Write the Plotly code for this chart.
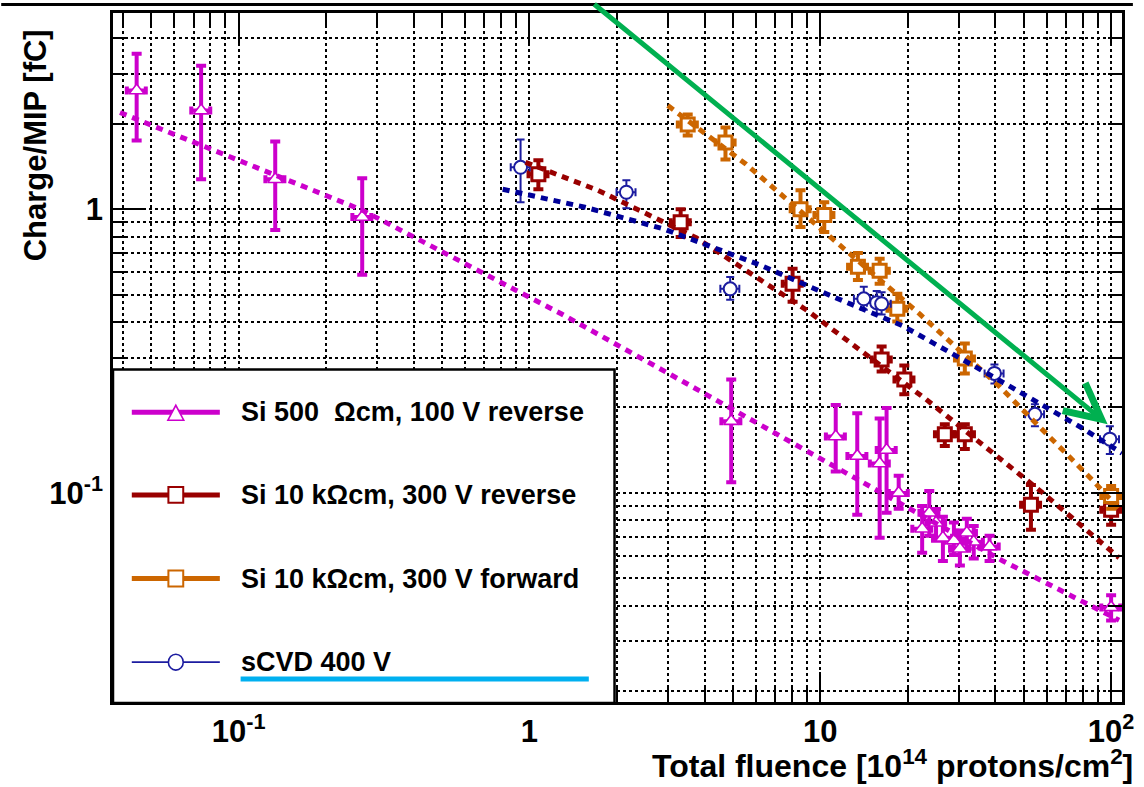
import plotly.graph_objects as go

# ---- measured charge per MIP vs. total fluence ----
# Si 500 Ohm cm, 100 V reverse bias
si500_fluence = [0.0446, 0.0743, 0.1336, 0.266, 4.94, 11.3, 13.4, 16.0, 16.9, 18.6,
                 22.4, 23.7, 25.0, 26.4, 28.8, 30.2, 31.9, 33.7, 38.2, 100.0]
si500_charge = [2.62, 2.225, 1.274, 0.938, 0.179, 0.158, 0.135, 0.127, 0.1416, 0.100,
                0.0748, 0.0851, 0.0785, 0.0695, 0.0679, 0.0636, 0.0724, 0.0673, 0.0647, 0.0395]
si500_high = [3.53, 3.20, 1.732, 1.284, 0.251, 0.204, 0.191, 0.183, 0.199, 0.115,
              0.0900, 0.1016, 0.0877, 0.0824, 0.0787, 0.0737, 0.0811, 0.0765, 0.0707, 0.0436]
si500_low = [1.746, 1.274, 0.844, 0.587, 0.109, 0.119, 0.0837, 0.0695, 0.0851, 0.0879,
             0.0616, 0.0707, 0.0679, 0.0575, 0.0604, 0.0555, 0.0636, 0.0587, 0.0575, 0.0355]

# Si 10 kOhm cm, 300 V reverse bias
rev_fluence = [1.073, 3.31, 8.03, 16.25, 19.45, 26.8, 31.4, 53.0, 100.0]
rev_charge = [1.327, 0.900, 0.546, 0.2953, 0.2512, 0.161, 0.161, 0.0908, 0.0872]
rev_high = [1.486, 1.0, 0.616, 0.328, 0.281, 0.1746, 0.1746, 0.1067, 0.100]
rev_low = [1.175, 0.798, 0.472, 0.268, 0.2226, 0.1462, 0.1427, 0.0742, 0.0772]

# Si 10 kOhm cm, 300 V forward bias
fwd_fluence = [3.50, 4.72, 8.55, 10.32, 13.47, 16.0, 18.4, 31.4, 100.0]
fwd_charge = [1.987, 1.718, 1.0, 0.953, 0.626, 0.606, 0.4456, 0.2977, 0.0976]
fwd_high = [2.154, 1.940, 1.166, 1.058, 0.701, 0.668, 0.503, 0.336, 0.1058]
fwd_low = [1.818, 1.497, 0.865, 0.830, 0.563, 0.546, 0.4015, 0.2637, 0.0879]

# sCVD diamond, 400 V
cvd_fluence = [0.932, 2.154, 4.90, 14.11, 15.63, 16.25, 39.7, 54.7, 99.0]
cvd_charge = [1.404, 1.147, 0.524, 0.4832, 0.468, 0.464, 0.2637, 0.1893, 0.1547]
cvd_high = [1.761, 1.264, 0.577, 0.5325, 0.515, 0.51, 0.2836, 0.2053, 0.1718]
cvd_low = [1.058, 1.008, 0.4795, 0.442, 0.428, 0.425, 0.2432, 0.1718, 0.137]

# ---- fitted curves (dotted) ----
si500_fit_x = [0.0391, 0.266, 1.285, 3.37, 42.3, 106.5]
si500_fit_y = [2.19, 0.992, 0.428, 0.247, 0.0577, 0.0356]
rev_fit_x = [0.969, 1.717, 3.757, 9.03, 23.1, 58.2, 106.5]
rev_fit_y = [1.462, 1.166, 0.791, 0.4386, 0.2137, 0.100, 0.0591]
fwd_fit_x = [2.99, 5.56, 11.34, 21.9, 41.3, 86.2, 106.5]
fwd_fit_y = [2.317, 1.439, 0.766, 0.428, 0.2374, 0.111, 0.0879]
cvd_fit_x = [0.809, 1.551, 2.90, 6.20, 10.48, 19.15, 39.1, 79.7, 109.0]
cvd_fit_y = [1.175, 1.016, 0.851, 0.636, 0.503, 0.3886, 0.2573, 0.169, 0.138]

# ---- axis ticks ----
x_major = [0.1, 1, 10, 100]
x_major_text = ["10<sup>-1</sup>", "1", "10", "10<sup>2</sup>"]
x_minor = [0.04, 0.05, 0.06, 0.07, 0.08, 0.09,
           0.2, 0.3, 0.4, 0.5, 0.6, 0.7, 0.8, 0.9,
           2, 3, 4, 5, 6, 7, 8, 9,
           20, 30, 40, 50, 60, 70, 80, 90]
y_major = [0.1, 1]
y_major_text = ["10<sup>-1</sup>", "1"]
y_minor = [0.02, 0.03, 0.04, 0.05, 0.06, 0.07, 0.08, 0.09,
           0.2, 0.3, 0.4, 0.5, 0.6, 0.7, 0.8, 0.9, 2, 3, 4]

legend_labels = ["Si 500 \u00a0\u03A9cm, 100 V reverse",
                 "Si 10 k\u03A9cm, 300 V reverse",
                 "Si 10 k\u03A9cm, 300 V forward",
                 "sCVD 400 V"]

MAGENTA = "#CC00CC"
DARKRED = "#990000"
ORANGE = "#CC6600"
NAVY = "#1C1CA0"
FITBLUE = "#000099"
GREEN = "#00B050"
CYAN = "#00B0F0"
FONT = "Liberation Sans, Arial, sans-serif"

fig = go.Figure()


def add_series(x, y, hi, lo, color, symbol, size, lw, bar_w, cap_w, name):
    fig.add_trace(go.Scatter(
        x=x, y=y, mode="markers", name=name, showlegend=False,
        marker=dict(symbol=symbol, size=size, color="white",
                    line=dict(color=color, width=lw)),
        error_y=dict(type="data", symmetric=False,
                     array=[h - v for h, v in zip(hi, y)],
                     arrayminus=[v - l for v, l in zip(y, lo)],
                     color=color, thickness=bar_w, width=cap_w),
        error_x=dict(type="percent", value=7.5, color=color,
                     thickness=bar_w, width=4),
    ))


def add_fit(x, y, color):
    fig.add_trace(go.Scatter(
        x=x, y=y, mode="lines", showlegend=False, hoverinfo="skip",
        line=dict(color=color, width=5, dash="7px,6px"),
    ))


add_series(si500_fluence, si500_charge, si500_high, si500_low,
           MAGENTA, "triangle-up", 13, 1.6, 4, 5, legend_labels[0])
add_series(rev_fluence, rev_charge, rev_high, rev_low,
           DARKRED, "square", 13, 3, 4, 5, legend_labels[1])
add_series(fwd_fluence, fwd_charge, fwd_high, fwd_low,
           ORANGE, "square", 13, 3, 4, 5, legend_labels[2])
add_series(cvd_fluence, cvd_charge, cvd_high, cvd_low,
           NAVY, "circle", 13, 2, 2, 4, legend_labels[3])

add_fit(si500_fit_x, si500_fit_y, MAGENTA)
add_fit(rev_fit_x, rev_fit_y, DARKRED)
add_fit(fwd_fit_x, fwd_fit_y, ORANGE)
add_fit(cvd_fit_x, cvd_fit_y, FITBLUE)

# plot-area pixel frame, used to place the legend box and labels
L, R, T, B = 113, 1133, 10, 702


def pxx(x):
    return (x - L) / (R - L)


def pxy(y):
    return (B - y) / (B - T)


grid = dict(showgrid=True, gridcolor="black", gridwidth=1.6, griddash="dot")
axis_common = dict(
    type="log", showline=True, linecolor="black", linewidth=2.5, mirror="allticks",
    ticks="inside", ticklen=30, tickwidth=2, tickcolor="black", zeroline=False,
    tickmode="array",
    tickfont=dict(family=FONT, size=31, color="black", weight="bold"),
    **grid,
)

fig.update_xaxes(
    range=[-1.432, 2.0374], tickvals=x_major, ticktext=x_major_text,
    ticklabelstandoff=0,
    minor=dict(tickmode="array", tickvals=x_minor, ticks="inside", ticklen=14,
               tickwidth=1.5, tickcolor="black", **grid),
    **axis_common,
)
fig.update_yaxes(
    range=[-1.7368, 0.6912], tickvals=y_major, ticktext=y_major_text,
    ticklabelstandoff=1,
    minor=dict(tickmode="array", tickvals=y_minor, ticks="inside", ticklen=14,
               tickwidth=1.5, tickcolor="black", **grid),
    **axis_common,
)

shapes = []
annotations = []

# thin rule along the top edge
shapes.append(dict(type="line", xref="paper", yref="paper",
                   x0=pxx(0), x1=pxx(1144), y0=pxy(1.5), y1=pxy(1.5),
                   line=dict(color="black", width=3), layer="above"))

# legend box
shapes.append(dict(type="rect", xref="paper", yref="paper",
                   x0=pxx(113), x1=pxx(620), y0=pxy(703), y1=pxy(368),
                   fillcolor="white", line=dict(color="black", width=2.5),
                   layer="above"))

legend_rows = [411, 494, 578, 662]
legend_colors = [MAGENTA, DARKRED, ORANGE, NAVY]
legend_widths = [5, 5, 5, 1.6]
for row, col, lw, label in zip(legend_rows, legend_colors, legend_widths, legend_labels):
    shapes.append(dict(type="line", xref="paper", yref="paper",
                       x0=pxx(132), x1=pxx(221), y0=pxy(row), y1=pxy(row),
                       line=dict(color=col, width=lw), layer="above"))
    annotations.append(dict(xref="paper", yref="paper", x=pxx(240), y=pxy(row),
                            xanchor="left", yanchor="middle", showarrow=False,
                            text=label,
                            font=dict(family=FONT, size=27, color="black", weight="bold")))

# legend marker glyphs
cx = 176.5
tri = legend_rows[0]
shapes.append(dict(type="path", xref="paper", yref="paper",
                   path=f"M{pxx(cx - 8)},{pxy(tri + 8)} L{pxx(cx + 8)},{pxy(tri + 8)} "
                        f"L{pxx(cx)},{pxy(tri - 7)} Z",
                   fillcolor="white", line=dict(color=MAGENTA, width=1.6), layer="above"))
for row, col in zip(legend_rows[1:3], legend_colors[1:3]):
    shapes.append(dict(type="rect", xref="paper", yref="paper",
                       x0=pxx(cx - 7.5), x1=pxx(cx + 7.5), y0=pxy(row + 8), y1=pxy(row - 8),
                       fillcolor="white", line=dict(color=col, width=2), layer="above"))
shapes.append(dict(type="circle", xref="paper", yref="paper",
                   x0=pxx(cx - 7.5), x1=pxx(cx + 7.5),
                   y0=pxy(legend_rows[3] + 8), y1=pxy(legend_rows[3] - 8),
                   fillcolor="white", line=dict(color=NAVY, width=1.6), layer="above"))

# highlight bar under the diamond entry
shapes.append(dict(type="line", xref="paper", yref="paper",
                   x0=pxx(242), x1=pxx(594), y0=pxy(679), y1=pxy(679),
                   line=dict(color=CYAN, width=5), layer="above"))

# trend arrow (log coordinates for log axes)
annotations.append(dict(
    xref="x", yref="y", axref="x", ayref="y",
    x=1.988, y=-0.758, ax=0.2177, ay=0.7263,
    text="", showarrow=True, arrowhead=5, arrowsize=1.4, arrowwidth=5,
    arrowcolor=GREEN, standoff=0, startstandoff=0,
))

# axis titles
annotations.append(dict(
    xref="paper", yref="paper", x=pxx(1146), y=pxy(764),
    xanchor="right", yanchor="middle", showarrow=False,
    text="Total fluence [10<sup>14</sup> protons/cm<sup>2</sup>]",
    font=dict(family=FONT, size=32, color="black", weight="bold"),
))
annotations.append(dict(
    xref="paper", yref="paper", x=pxx(35), y=pxy(143),
    xanchor="center", yanchor="middle", showarrow=False, textangle=-90,
    text="Charge/MIP [fC]",
    font=dict(family=FONT, size=31, color="black", weight="bold"),
))

fig.update_layout(
    width=1144, height=787,
    margin=dict(l=L, r=1144 - R, t=T, b=787 - B),
    paper_bgcolor="white", plot_bgcolor="white",
    showlegend=False,
    shapes=shapes, annotations=annotations,
)

fig.write_html("out.html")
